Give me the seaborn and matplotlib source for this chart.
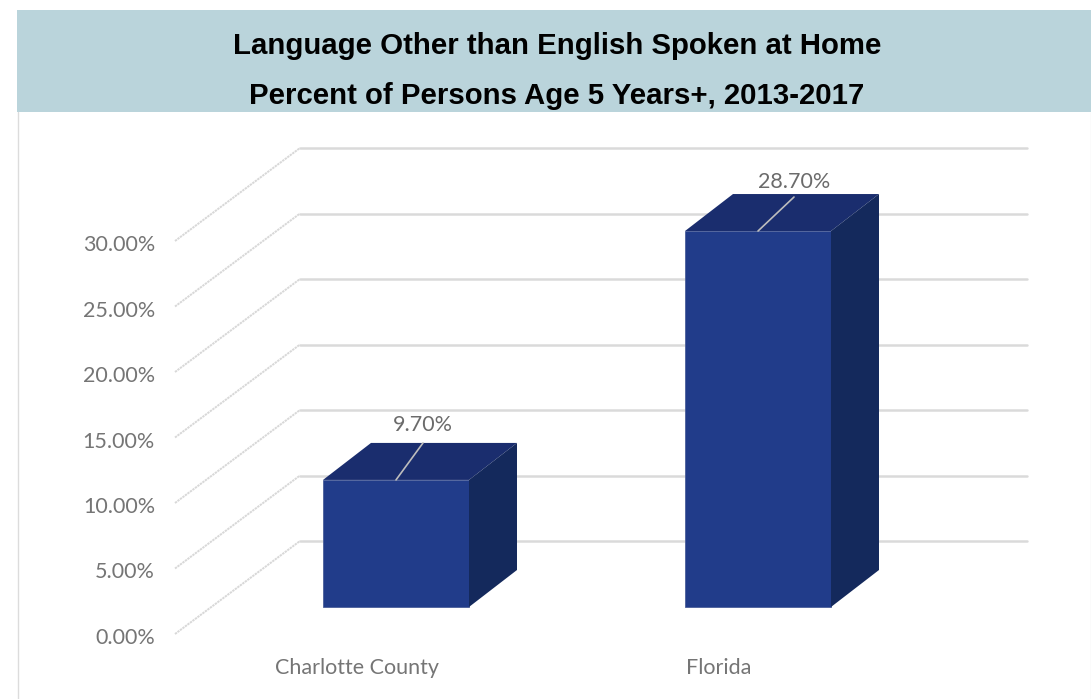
import matplotlib.pyplot as plt
import seaborn as sns
import pandas as pd
from matplotlib.patches import Polygon, Rectangle
from matplotlib.transforms import ScaledTranslation

# 차트 데이터
categories = ['Charlotte County', 'Florida']
values = [9.7, 28.7]
y_ticks = [0, 5, 10, 15, 20, 25, 30]
title_lines = ['Language Other than English Spoken at Home',
               'Percent of Persons Age 5 Years+, 2013-2017']

W, H = 1091, 699
PX_Y = 13.1    # 1% 높이 (px)
PX_X = 362     # 카테고리 간격 (px)

sns.set_theme(style='white')
plt.rcParams['font.family'] = ['Lato', 'DejaVu Sans']

fig = plt.figure(figsize=(W / 100, H / 100), dpi=100)

# 제목 배경과 테두리
fig.add_artist(Rectangle((17 / W, 1 - 112 / H), (W - 17) / W, 102 / H,
                         transform=fig.transFigure, color='#BAD4DB', lw=0))
fig.add_artist(plt.Line2D([17.5 / W, 17.5 / W], [0, 1 - 112 / H], color='#DCDCDC', lw=1))
fig.add_artist(plt.Line2D([1090.5 / W, 1090.5 / W], [0, 1 - 112 / H], color='#EDEDED', lw=1))
for line, y_px in zip(title_lines, [46.5, 96.5]):
    fig.text(557 / W, 1 - y_px / H, line, ha='center', va='center', fontsize=21.2,
             fontweight='bold', family='Liberation Sans', color='black')

ax = fig.add_axes([175 / W, 1 - 634 / H, (1027 - 175) / W, (634 - 148) / H])
df = pd.DataFrame({'area': categories, 'pct': values})

# 3D 벽면 오프셋 (데이터 단위)
wall_dx = 125 / PX_X
wall_dy = 93 / PX_Y
floor = 27 / PX_Y     # 막대 바닥 높이
depth_dx = 48 / PX_X
depth_dy = 37 / PX_Y
left, right = -221 / PX_X, 631 / PX_X

sns.barplot(data=df, x='area', y='pct', color='#213C8A', saturation=1, width=146 / PX_X,
            bottom=floor, errorbar=None, ax=ax, zorder=3, linewidth=0.6, edgecolor='#4A5E9A')
ax.set_xlim(left, right)
ax.set_ylim(0, (634 - 148) / PX_Y)

# 격자선
for t in y_ticks:
    ax.plot([left, left + wall_dx], [t, t + wall_dy], color='#D8D8D8', lw=1.4,
            ls=(0, (1.2, 0.4)), zorder=1, clip_on=False)
    ax.plot([left + wall_dx, right], [t + wall_dy, t + wall_dy], color='#DADADA', lw=1.8,
            zorder=1, clip_on=False)

# 막대 옆면과 윗면, 값 레이블
label_offsets = [(27, 37, 55), (36, 34, 49)]
for bar, v, (lead_x, lead_y, text_y) in zip(ax.patches, values, label_offsets):
    x0, x1 = bar.get_x(), bar.get_x() + bar.get_width()
    y0, y1 = bar.get_y(), bar.get_y() + bar.get_height()
    top = [(x0, y1), (x1, y1), (x1 + depth_dx, y1 + depth_dy), (x0 + depth_dx, y1 + depth_dy)]
    side = [(x1, y0), (x1 + depth_dx, y0 + depth_dy), (x1 + depth_dx, y1 + depth_dy), (x1, y1)]
    ax.add_patch(Polygon(top, color='#1A2D6E', lw=0, zorder=3))
    ax.add_patch(Polygon(side, color='#14295C', lw=0, zorder=3))
    cx = (x0 + x1) / 2
    ax.plot([cx, cx + lead_x / PX_X], [y1, y1 + lead_y / PX_Y], color='#BDBDBD', lw=1.2, zorder=4)
    ax.annotate(f'{v:.2f}%', (cx, y1), xytext=(lead_x, text_y), textcoords='offset pixels',
                ha='center', va='center', fontsize=15.5, color='#6B6B6B', zorder=5)

# 축 설정
sns.despine(ax=ax, left=True, bottom=True)
ax.set_xlabel('')
ax.set_ylabel('')
ax.set_yticks(y_ticks)
ax.set_yticklabels([f'{t:.2f}%' for t in y_ticks], fontsize=15.5, color='#757575')
ax.tick_params(axis='y', length=0, pad=14.4)
ax.tick_params(axis='x', length=0, pad=17, labelsize=15.5, labelcolor='#757575')
y_shift = ScaledTranslation(0, -2 / 100, fig.dpi_scale_trans)
for label in ax.get_yticklabels():
    label.set_transform(label.get_transform() + y_shift)
x_shift = ScaledTranslation(-39 / 100, 0, fig.dpi_scale_trans)
for label in ax.get_xticklabels():
    label.set_transform(label.get_transform() + x_shift)
ax.patch.set_alpha(0)

fig.savefig('out.png', dpi=100)
plt.close()
